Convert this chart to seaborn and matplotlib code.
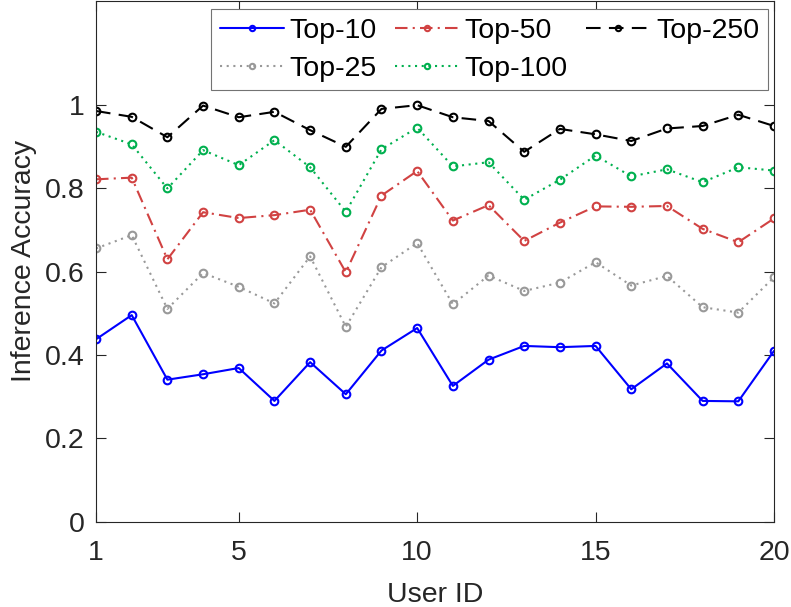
import numpy as np
import pandas as pd
import matplotlib
matplotlib.use("Agg")
import matplotlib.pyplot as plt
import seaborn as sns

user_ids = list(range(1, 21))

top10 = [0.438, 0.496, 0.341, 0.354, 0.369, 0.290, 0.383, 0.306, 0.411, 0.465,
         0.326, 0.389, 0.422, 0.419, 0.422, 0.318, 0.380, 0.290, 0.289, 0.410]
top25 = [0.656, 0.688, 0.511, 0.597, 0.564, 0.524, 0.637, 0.468, 0.611, 0.669,
         0.522, 0.591, 0.554, 0.574, 0.623, 0.567, 0.590, 0.515, 0.502, 0.587]
top50 = [0.822, 0.826, 0.630, 0.743, 0.729, 0.736, 0.749, 0.599, 0.783, 0.842,
         0.723, 0.760, 0.674, 0.718, 0.757, 0.756, 0.758, 0.703, 0.671, 0.728]
top100 = [0.936, 0.906, 0.800, 0.892, 0.856, 0.916, 0.851, 0.744, 0.894, 0.946,
          0.853, 0.863, 0.773, 0.821, 0.879, 0.829, 0.846, 0.815, 0.851, 0.843]
top250 = [0.986, 0.972, 0.923, 0.999, 0.971, 0.984, 0.940, 0.900, 0.991, 1.000,
          0.971, 0.962, 0.888, 0.943, 0.930, 0.914, 0.944, 0.950, 0.977, 0.950]

x_ticks = [1, 5, 10, 15, 20]
y_ticks = [0, 0.2, 0.4, 0.6, 0.8, 1.0]
y_tick_labels = ["0", "0.2", "0.4", "0.6", "0.8", "1"]

sns.set_theme(style="white")
plt.rcParams["font.family"] = ["Liberation Sans", "DejaVu Sans"]
axis_grey = (0.15, 0.15, 0.15)
fs = 20.5

series = [
    ("Top-10", top10, (0.0, 0.0, 1.0), "-"),
    ("Top-25", top25, (0.6, 0.6, 0.6), (0, (1, 2.2))),
    ("Top-50", top50, (0.82, 0.26, 0.26), (0, (6, 2.5, 1, 2.5))),
    ("Top-100", top100, (0.0, 0.69, 0.31), (0, (1, 2.2))),
    ("Top-250", top250, (0.0, 0.0, 0.0), (0, (7, 4))),
]

frames = []
for name, vals, _, _ in series:
    frames.append(pd.DataFrame({"User ID": user_ids, "Accuracy": vals, "Series": name}))
df = pd.concat(frames, ignore_index=True)

fig = plt.figure(figsize=(7.91, 6.07), dpi=100)
ax = fig.add_axes([0.1214, 0.1405, 0.8571, 0.8578])

for name, _, color, ls in series:
    sub = df[df["Series"] == name]
    sns.lineplot(data=sub, x="User ID", y="Accuracy", ax=ax, color=color,
                 linestyle=ls, linewidth=1.5, marker="o", markersize=5.5,
                 markerfacecolor="none", markeredgecolor=color,
                 markeredgewidth=1.5, label=name)

ax.set_xlim(1, 20)
ax.set_ylim(0, 1.25)
ax.set_xticks(x_ticks)
ax.set_xticklabels([str(t) for t in x_ticks])
ax.set_yticks(y_ticks)
ax.set_yticklabels(y_tick_labels)
ax.set_xlabel("User ID", fontsize=fs, color=axis_grey, labelpad=12)
ax.set_ylabel("Inference Accuracy", fontsize=fs, color=axis_grey, labelpad=6)

ax.tick_params(axis="both", which="both", direction="in", length=7, width=0.8,
               colors=axis_grey, labelsize=fs, top=True, right=True,
               bottom=True, left=True)
ax.tick_params(axis="x", pad=13)
ax.tick_params(axis="y", pad=8)
for side in ["left", "bottom", "top", "right"]:
    ax.spines[side].set_visible(True)
    ax.spines[side].set_color(axis_grey)
    ax.spines[side].set_linewidth(0.8)

handles, labels = ax.get_legend_handles_labels()
order = ["Top-10", "Top-25", "Top-50", "Top-100", "Top-250"]
hmap = dict(zip(labels, handles))
leg = ax.legend([hmap[k] for k in order], order, ncol=3, loc="upper right",
                bbox_to_anchor=(0.991, 0.9846), fontsize=fs, frameon=True,
                fancybox=False, edgecolor=(0.45, 0.45, 0.45), framealpha=1,
                handlelength=2.25, handletextpad=0.2, columnspacing=0.65,
                labelspacing=0.43, borderpad=0.3, borderaxespad=0,
                markerscale=0.7)
leg.get_frame().set_linewidth(0.8)
for t in leg.get_texts():
    t.set_color("black")

fig.savefig("out.png", dpi=100)
